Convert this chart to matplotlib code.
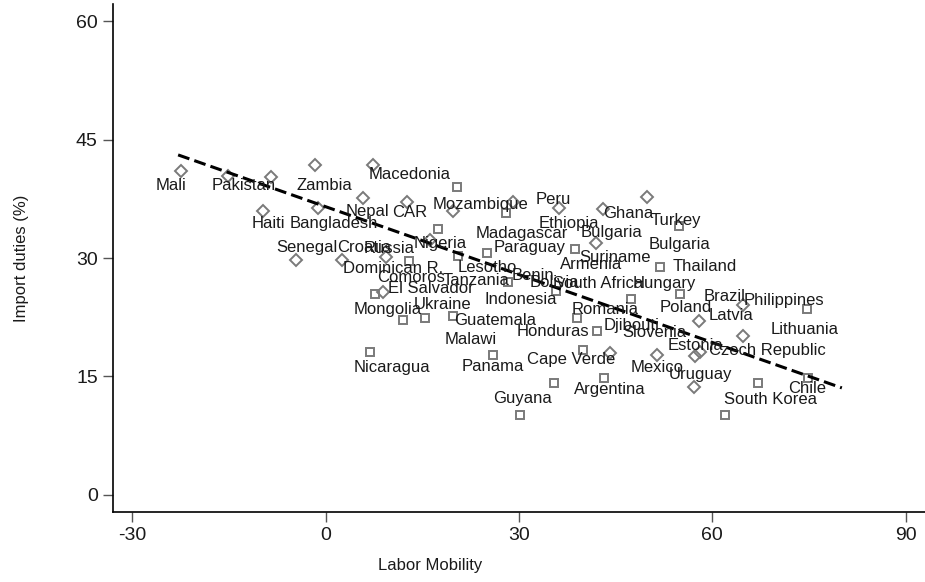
import matplotlib
matplotlib.use("Agg")
import matplotlib.pyplot as plt

plt.rcParams['font.family'] = ['Liberation Sans', 'DejaVu Sans']

# Hollow diamond markers (labor mobility, import duties)
dia_x = [-22.46, -15.2, -8.54, -1.66, 7.3, 5.84, -9.68, -1.15, -4.6, 2.58, 9.36,
         16.2, 8.85, 12.57, 19.7, 29.1, 36.2, 41.9, 43.0, 49.9, 64.7, 58.0, 64.7,
         57.3, 58.1, 51.4, 44.1, 57.2]
dia_y = [41.08, 40.4, 40.3, 41.8, 41.8, 37.6, 36.0, 36.4, 29.8, 29.8, 30.1,
         32.3, 25.7, 37.07, 35.97, 37.15, 36.4, 31.95, 36.2, 37.7, 24.05, 22.0, 20.1,
         17.6, 18.05, 17.7, 17.9, 13.7]

# Hollow square markers
sq_x = [17.48, 12.98, 20.6, 25.0, 7.65, 12.05, 15.4, 19.8, 20.33, 27.98, 38.7,
        54.8, 51.8, 55.0, 47.3, 74.65, 35.74, 28.3, 38.95, 42.06, 6.87, 26.0,
        40.0, 35.5, 43.25, 30.2, 67.15, 74.9, 62.0]
sq_y = [33.65, 29.6, 30.3, 30.6, 25.45, 22.15, 22.4, 22.66, 38.97, 35.68, 31.15,
        34.1, 28.9, 25.45, 24.8, 23.5, 25.83, 26.9, 22.36, 20.75, 18.13, 17.71,
        18.35, 14.12, 14.76, 10.1, 14.2, 14.76, 10.1]

# Country labels
lab_text = ["Mali", "Pakistan", "Zambia", "Macedonia", "Nepal", "CAR", "Haiti",
            "Bangladesh", "Senegal", "Croatia", "Russia", "Nigeria", "Mozambique",
            "Peru", "Ghana", "Turkey", "Ethiopia", "Bulgaria", "Madagascar",
            "Bulgaria", "Paraguay", "Suriname", "Armenia", "Thailand",
            "Dominican R.", "Lesotho", "Comoros", "Tanzania", "Benin", "Bolivia",
            "South Africa", "Hungary", "El Salvador", "Indonesia", "Brazil",
            "Philippines", "Poland", "Mongolia", "Ukraine", "Romania", "Latvia",
            "Guatemala", "Djibouti", "Lithuania", "Honduras", "Slovenia", "Malawi",
            "Estonia", "Czech Republic", "Nicaragua", "Panama", "Cape Verde",
            "Mexico", "Uruguay", "Argentina", "Chile", "Guyana", "South Korea"]
lab_x = [-24.01, -12.68, -0.26, 13.08, 6.41, 13.08, -8.96, 1.29, -2.98, 5.94,
         9.90, 17.74, 23.95, 35.28, 47.00, 54.37, 37.68, 44.36, 30.39, 54.83,
         31.71, 44.90, 41.18, 58.79, 10.45, 25.04, 13.24, 23.33, 32.17, 35.43,
         42.34, 52.58, 16.27, 30.31, 61.82, 71.13, 55.84, 9.67, 18.13, 43.43,
         62.83, 26.35, 47.54, 74.31, 35.20, 50.95, 22.47, 57.40, 68.57, 10.29,
         25.97, 38.15, 51.42, 58.09, 44.05, 74.70, 30.54, 68.96]
lab_y = [39.24, 39.24, 39.24, 40.54, 35.85, 35.72, 34.33, 34.33, 31.29, 31.29,
         31.16, 31.79, 36.73, 37.37, 35.59, 34.74, 34.32, 33.22, 33.05, 31.66,
         31.28, 30.10, 29.12, 28.91, 28.71, 28.83, 27.56, 27.13, 27.73, 26.88,
         26.72, 26.72, 26.17, 24.69, 25.10, 24.60, 23.76, 23.51, 24.05, 23.42,
         22.66, 22.06, 21.39, 20.97, 20.67, 20.54, 19.61, 18.85, 18.22, 16.15,
         16.23, 17.08, 16.15, 15.27, 13.36, 13.40, 12.22, 12.10]

# Fitted line end points
fit_x = [-22.9, 80.1]
fit_y = [43.07, 13.53]

xticks = [-30, 0, 30, 60, 90]
yticks = [0, 15, 30, 45, 60]

fig = plt.figure(figsize=(9.25, 5.82), dpi=100)
ax = fig.add_axes([0.1222, 0.1203, 0.8778, 0.8728])

mcol = '#7a7a7a'
ax.plot(dia_x, dia_y, linestyle='none', marker='D', markersize=6,
        markerfacecolor='none', markeredgecolor=mcol, markeredgewidth=1.4)
ax.plot(sq_x, sq_y, linestyle='none', marker='s', markersize=6,
        markerfacecolor='none', markeredgecolor=mcol, markeredgewidth=1.4)
ax.plot(fit_x, fit_y, color='black', linewidth=2.2, dashes=(3.9, 1.7))

for t, x, y in zip(lab_text, lab_x, lab_y):
    ax.text(x, y, t, ha='center', va='center', fontsize=12, color='#1a1a1a')

ax.set_xlim(-33, 93)
ax.set_ylim(-2.2, 62.2)
ax.set_xticks(xticks)
ax.set_yticks(yticks)
ax.set_xticklabels([str(v) for v in xticks])
ax.set_yticklabels([str(v) for v in yticks])
ax.tick_params(axis='both', direction='out', length=7, width=1, color='#555555',
               labelsize=14, pad=4, labelcolor='#1a1a1a')
for s in ['top', 'right']:
    ax.spines[s].set_visible(False)
for s in ['left', 'bottom']:
    ax.spines[s].set_linewidth(1.2)
    ax.spines[s].set_color('black')

ax.set_xlabel('Labor Mobility', fontsize=12, color='#1a1a1a')
ax.set_ylabel('Import duties (%)', fontsize=12, color='#1a1a1a')
ax.xaxis.set_label_coords(0.390, -0.091)
ax.yaxis.set_label_coords(-0.103, 0.5)

fig.savefig('out.png', dpi=100)
